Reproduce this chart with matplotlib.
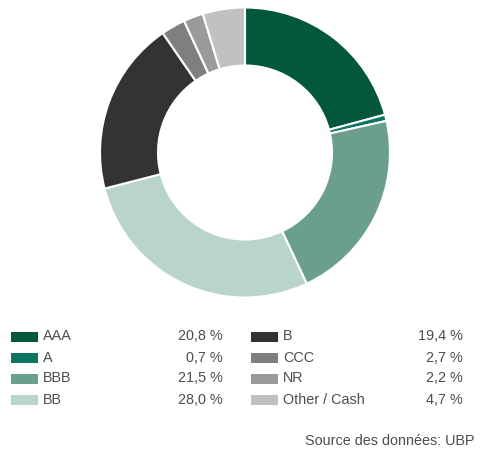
import matplotlib.pyplot as plt
from matplotlib.patches import Rectangle

plt.rcParams['font.family'] = ['Liberation Sans', 'DejaVu Sans']

labels = ['AAA', 'A', 'BBB', 'BB', 'B', 'CCC', 'NR', 'Other / Cash']
values = [20.8, 0.7, 21.5, 28.0, 19.4, 2.7, 2.2, 4.7]
colors = ['#02573d', '#0c7663', '#6a9f8e', '#b9d4ca',
          '#333333', '#7f7f7f', '#9a9a9a', '#c1c1c1']
source = 'Source des données: UBP'

W, H = 486, 453
fig = plt.figure(figsize=(W / 100, H / 100), dpi=100)

# donut
cx, cy, r = 245, 152.5, 145
ax = fig.add_axes([(cx - r) / W, (H - cy - r) / H, 2 * r / W, 2 * r / H])
ax.pie(values, colors=colors, startangle=90, counterclock=False,
       wedgeprops=dict(width=0.4, edgecolor='white', linewidth=1.5))
ax.set_xlim(-1, 1)
ax.set_ylim(-1, 1)
ax.set_aspect('equal')
ax.axis('off')

# legend table, drawn in pixel coordinates
lg = fig.add_axes([0, 0, 1, 1])
lg.set_xlim(0, W)
lg.set_ylim(H, 0)
lg.axis('off')

txt = dict(fontsize=10.4, color='#4d4d4d', va='center')
row_y = [336.5, 357.5, 378.5, 399.5]
cols = [(11, 43, 223), (251, 283, 463)]
for i, (lab, val, col) in enumerate(zip(labels, values, colors)):
    sx, lx, vx = cols[i // 4]
    y = row_y[i % 4]
    lg.add_patch(Rectangle((sx, y - 5), 27, 10, facecolor=col, edgecolor='none'))
    lg.text(lx, y, lab, ha='left', **txt)
    lg.text(vx, y, f'{val:.1f} %'.replace('.', ','), ha='right', **txt)

lg.text(474, 441, source, ha='right', **txt)

fig.savefig('out.png', dpi=100)
